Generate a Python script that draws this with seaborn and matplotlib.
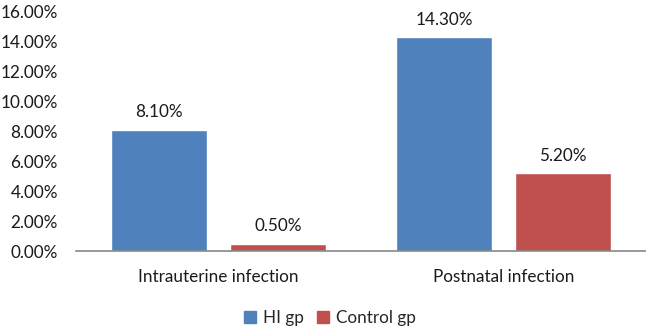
import matplotlib
matplotlib.use("Agg")
import matplotlib.pyplot as plt
import pandas as pd
import seaborn as sns
from matplotlib.ticker import FuncFormatter


CATEGORIES = ["Intrauterine infection", "Postnatal infection"]
HI_GP = [8.10, 14.30]
CONTROL_GP = [0.50, 5.20]
SERIES = ["HI gp", "Control gp"]
COLORS = ["#4F81BD", "#C0504D"]


def build_frame():
    rows = []
    for name, values in zip(SERIES, [HI_GP, CONTROL_GP]):
        for cat, val in zip(CATEGORIES, values):
            rows.append({"category": cat, "group": name, "value": val})
    return pd.DataFrame(rows)


def main():
    df = build_frame()

    sns.set_theme(style="white")
    plt.rcParams["font.family"] = ["Lato", "DejaVu Sans"]
    fs = 12.3

    fig = plt.figure(figsize=(6.46, 3.30), dpi=100)
    ax = fig.add_axes([76 / 646, 1 - 251 / 330, 570 / 646, 239 / 330])

    sns.barplot(
        data=df,
        x="category",
        y="value",
        hue="group",
        hue_order=SERIES,
        palette=COLORS,
        width=0.835,
        gap=0.2,
        saturation=1,
        ax=ax,
    )

    for container in ax.containers:
        ax.bar_label(container, fmt="%.2f%%", padding=7, fontsize=fs, color="#1a1a1a")

    ax.set_ylim(0, 16)
    ax.set_xlim(-0.5, 1.5)
    ax.set_yticks(range(0, 17, 2))
    ax.yaxis.set_major_formatter(FuncFormatter(lambda v, _: f"{v:.2f}%"))
    ax.set_xlabel("")
    ax.set_ylabel("")
    ax.tick_params(axis="both", length=0, labelsize=fs, colors="#1a1a1a")
    ax.tick_params(axis="x", pad=13)
    ax.tick_params(axis="y", pad=13)

    for side in ["top", "right", "left"]:
        ax.spines[side].set_visible(False)
    ax.spines["bottom"].set_color("#888888")
    ax.spines["bottom"].set_linewidth(1.2)

    ax.legend_.remove()
    handles = [plt.Rectangle((0, 0), 1, 1, color=c) for c in COLORS]
    fig.legend(
        handles,
        SERIES,
        loc="center",
        bbox_to_anchor=(330 / 646, 1 - 318 / 330),
        ncol=2,
        frameon=False,
        fontsize=fs,
        handlelength=0.7,
        handleheight=0.7,
        handletextpad=0.4,
        columnspacing=0.8,
    )

    fig.savefig("out.png", dpi=100)


if __name__ == "__main__":
    main()
